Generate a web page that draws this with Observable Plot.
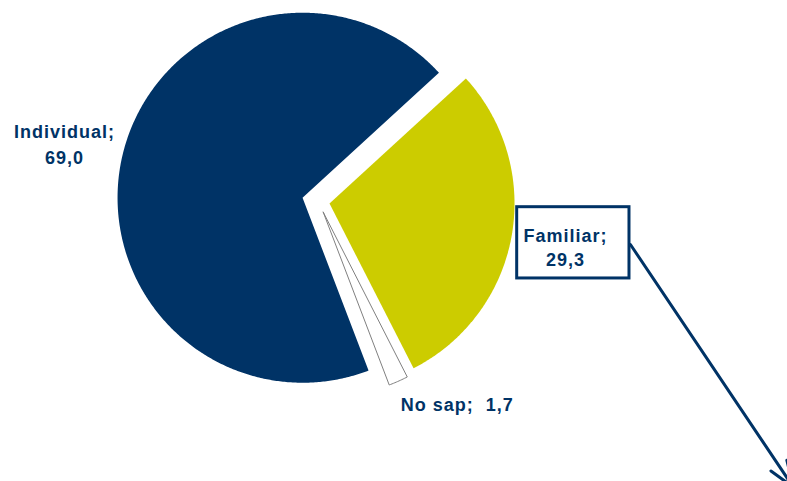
<!DOCTYPE html>
<html><head><meta charset="utf-8">
<script src="https://cdn.jsdelivr.net/npm/d3@7"></script>
<script src="https://cdn.jsdelivr.net/npm/@observablehq/plot@0.6"></script>
<style>
html,body{margin:0;padding:0;background:#fff;overflow:hidden;}
#chart svg text{letter-spacing:1px;white-space:pre;}
</style></head><body><div id="chart"></div>
<script>
// ---- data ----
const categories = ["Individual", "Familiar", "No sap"];
const values = [69.0, 29.3, 1.7];
const valueLabels = ["69,0", "29,3", "1,7"];
const fills = ["#003366", "#CCCC00", "#FFFFFF"];
const strokes = ["none", "none", "#808080"];
const explode = [0.0886, 0.0605, 0.063];   // fraction of radius
const startAngle = 159.1;                   // degrees, clockwise from 12 o'clock

// label anchors in pie-radius units (center = 0,0, y up)
const labelX = [-1.373, 1.335, 0.7497];
const labelY = [0.319, -0.2405, -1.1027];
const labelLineHeight = [1.44, 1.33, 1];
const boxX = [1.074, 1.681];   // box around Familiar label
const boxY = [-0.0308, -0.416];
const leaderFrom = [1.686, -0.2324];
const leaderTo = [2.568, -1.546];

// ---- geometry ----
const W = 787, H = 481, R = 185, CX = 318, CY = 201;
const total = d3.sum(values);
let a = startAngle;
const slices = categories.map((c, i) => {
  const span = values[i] / total * 360;
  const mid = (a + span / 2) * Math.PI / 180;
  const ox = explode[i] * Math.sin(mid), oy = explode[i] * Math.cos(mid);
  const pts = [{x: ox, y: oy}];
  const n = Math.max(4, Math.ceil(span / 0.5));
  for (let k = 0; k <= n; k++) {
    const t = (a + span * k / n) * Math.PI / 180;
    pts.push({x: ox + Math.sin(t), y: oy + Math.cos(t)});
  }
  pts.push({x: ox, y: oy});
  a += span;
  return pts;
});

const labels = categories.map((c, i) => ({
  text: i === 2 ? `${c};\u00a0 ${valueLabels[i]}` : `${c};\n${valueLabels[i]}`,
  x: labelX[i], y: labelY[i], lh: labelLineHeight[i]
}));

const font = "'Liberation Sans', Arial, sans-serif";
const navy = "#003366";

const plot = Plot.plot({
  width: W, height: H, margin: 0,
  x: {domain: [-CX / R, (W - CX) / R], axis: null},
  y: {domain: [-(H - CY) / R, CY / R], axis: null},
  style: {background: "white", overflow: "hidden"},
  marks: [
    ...slices.map((pts, i) => Plot.line(pts, {
      x: "x", y: "y", fill: fills[i], stroke: strokes[i], strokeWidth: 1, curve: "linear"
    })),
    Plot.arrow([{x1: leaderFrom[0], y1: leaderFrom[1], x2: leaderTo[0], y2: leaderTo[1]}], {
      x1: "x1", y1: "y1", x2: "x2", y2: "y2", stroke: navy, strokeWidth: 3, headLength: 14, headAngle: 40
    }),
    Plot.rect([{x1: boxX[0], x2: boxX[1], y1: boxY[0], y2: boxY[1]}], {
      x1: "x1", x2: "x2", y1: "y1", y2: "y2", fill: "white", stroke: navy, strokeWidth: 3
    }),
    ...labels.map(l => Plot.text([l], {
      x: "x", y: "y", text: "text", fill: navy, fontSize: 18, fontWeight: "bold",
      fontFamily: font, lineHeight: l.lh, textAnchor: "middle"
    }))
  ]
});
document.getElementById("chart").appendChild(plot);
</script></body></html>
